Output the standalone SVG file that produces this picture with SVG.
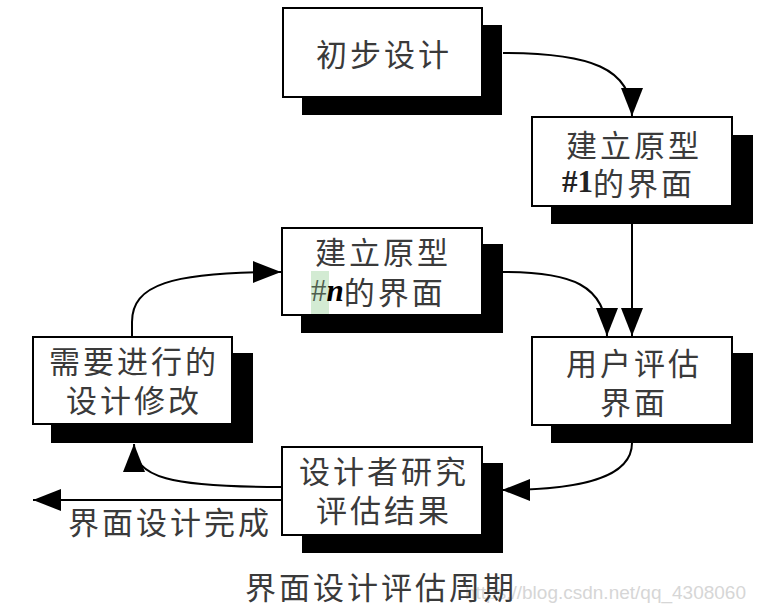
<svg xmlns="http://www.w3.org/2000/svg" width="759" height="608" viewBox="0 0 759 608">
<style>
.sh{fill:#000}
.bx{fill:#fff;stroke:#000;stroke-width:2}
.t{font-family:"Noto Sans CJK SC","Noto Sans",sans-serif;font-size:31px;letter-spacing:3px;fill:#3a3a3a;dominant-baseline:central}
.c{text-anchor:middle}
.ln{fill:none;stroke:#000;stroke-width:2}
.wm{font-family:"Liberation Sans",Arial,sans-serif;font-size:19px;fill:#d6d6d6}
</style>
<defs>
<marker id="ah" markerUnits="userSpaceOnUse" markerWidth="30" markerHeight="24" refX="28" refY="11" orient="auto">
<path d="M0,0 L28,11 L0,22 Z" fill="#000"/>
</marker>
</defs>
<rect width="759" height="608" fill="#fff"/>
<g id="connectors">
<path class="ln" d="M503,53 C590,53 632,68 632,116" marker-end="url(#ah)"/>
<path class="ln" d="M632,224 L632,336" marker-end="url(#ah)"/>
<path class="ln" d="M503,272 C570,272 607,284 607,336" marker-end="url(#ah)"/>
<path class="ln" d="M632,443 C632,478 580,490 502,490" marker-end="url(#ah)"/>
<path class="ln" d="M282,487 C170,487 134,478 134,444" marker-end="url(#ah)"/>
<path class="ln" d="M282,500 L33,500" marker-end="url(#ah)"/>
<path class="ln" d="M132,337 L132,322 C132,285 170,272 281,272" marker-end="url(#ah)"/>
</g>
<g id="n1">
<rect class="sh" x="302" y="25" width="200" height="90"/>
<rect class="bx" x="283" y="8" width="199" height="89"/>
<text class="t c" x="384" y="52">初步设计</text>
</g>
<g id="n2">
<rect class="sh" x="551" y="135" width="202" height="89"/>
<rect class="bx" x="532" y="117" width="200" height="89"/>
<text class="t c" x="634" y="143">建立原型</text>
<text class="t" x="562" y="181"><tspan font-family="'Liberation Serif',serif" font-weight="bold" letter-spacing="0" fill="#222">#1</tspan>的界面</text>
</g>
<g id="n3">
<rect class="sh" x="301" y="244" width="202" height="89"/>
<rect class="bx" x="282" y="228" width="200" height="87"/>
<rect x="311" y="271" width="18" height="43" fill="#d3ebd3"/>
<text class="t c" x="383" y="250">建立原型</text>
<text class="t" x="311" y="290"><tspan font-family="'Liberation Serif',serif" letter-spacing="0" fill="#4f5f4f">#</tspan><tspan font-family="'Liberation Serif',serif" font-weight="bold" font-style="italic" letter-spacing="0" fill="#000">n</tspan>的界面</text>
</g>
<g id="n4">
<rect class="sh" x="51" y="353" width="202" height="90"/>
<rect class="bx" x="33" y="337" width="199" height="87"/>
<text class="t c" x="134" y="359">需要进行的</text>
<text class="t c" x="134" y="398">设计修改</text>
</g>
<g id="n5">
<rect class="sh" x="551" y="353" width="202" height="90"/>
<rect class="bx" x="532" y="337" width="200" height="88"/>
<text class="t c" x="634" y="361">用户评估</text>
<text class="t c" x="634" y="400">界面</text>
</g>
<g id="n6">
<rect class="sh" x="302" y="463" width="201" height="90"/>
<rect class="bx" x="282" y="447" width="200" height="88"/>
<text class="t c" x="384" y="469">设计者研究</text>
<text class="t c" x="384" y="508">评估结果</text>
</g>
<text class="t" x="68" y="520">界面设计完成</text>
<text class="wm" x="465" y="599">https://blog.csdn.net/qq_4308060</text>
<text class="t" x="245" y="585">界面设计评估周期</text>
</svg>
